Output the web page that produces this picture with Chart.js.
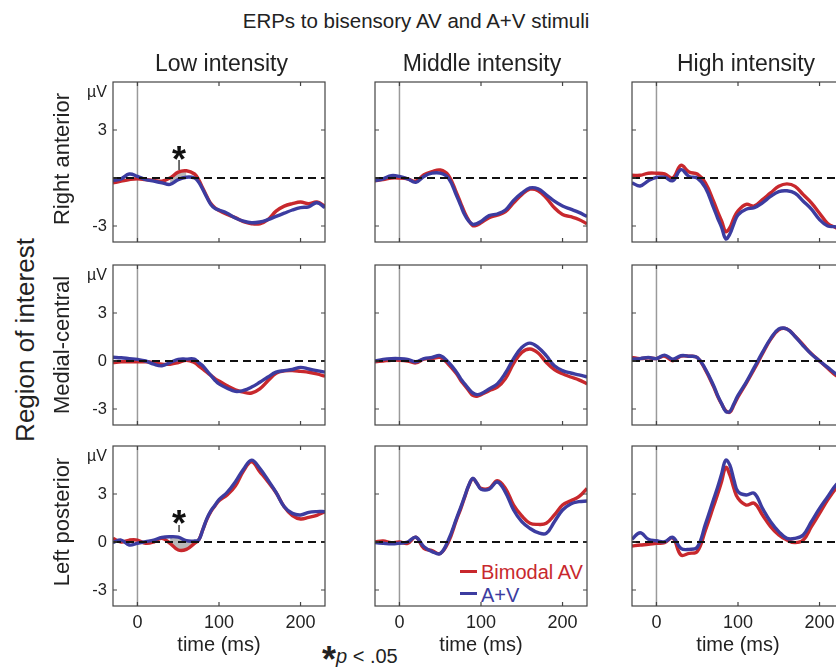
<!DOCTYPE html>
<html>
<head>
<meta charset="utf-8">
<script src="https://cdn.jsdelivr.net/npm/chart.js@4.4.1/dist/chart.umd.min.js"></script>
<style>
body { margin: 0; background: #fff; }
#page { position: relative; width: 836px; height: 671px; overflow: hidden; font-family: "Liberation Sans", Arial, sans-serif; color: #222; }
#page canvas { position: absolute; }
.lbl { position: absolute; white-space: nowrap; line-height: 1; }
.rot { transform: translate(-50%, -50%) rotate(-90deg); }
</style>
</head>
<body>
<div id="page">
  <div class="lbl" style="left:0;width:832px;text-align:center;top:10.5px;font-size:20.5px">ERPs to bisensory AV and A+V stimuli</div>
  <div class="lbl rot" style="left:24.8px;top:340px;font-size:26px">Region of interest</div>
  <div class="lbl" id="legAV" style="left:481px;top:562px;font-size:20px;color:#c8282d">Bimodal AV</div>
  <div class="lbl" id="legSum" style="left:481px;top:585px;font-size:20px;color:#3c3ca0">A+V</div>
  <div style="position:absolute;left:460px;top:570px;width:17px;height:3px;background:#c8282d"></div>
  <div style="position:absolute;left:460px;top:592px;width:17px;height:3px;background:#3c3ca0"></div>
  <div class="lbl" style="left:322px;top:642px;font-size:36px;font-weight:bold">*</div>
  <div class="lbl" style="left:336px;top:646px;font-size:20px"><i>p</i> &lt; .05</div>
</div>
<script>
// time axis (ms) shared by all panels
const times = [-30,-20,-10,0,10,20,30,40,50,60,70,75,80,85,90,95,100,110,120,130,140,150,160,170,180,190,200,210,220,230];

// Right anterior
const antLowAV   = [-0.3,-0.2,-0.1,-0.05,-0.1,-0.15,-0.2,0.0,0.37,0.45,0.25,-0.1,-0.62,-1.14,-1.6,-1.86,-2.03,-2.28,-2.48,-2.73,-2.86,-2.86,-2.6,-2.07,-1.76,-1.6,-1.5,-1.6,-1.5,-1.76];
const antLowSum  = [-0.15,-0.05,0.25,0.1,-0.1,-0.2,-0.3,-0.4,-0.1,0.05,0.0,-0.25,-0.7,-1.2,-1.65,-1.9,-2.0,-2.2,-2.5,-2.7,-2.8,-2.75,-2.6,-2.4,-2.2,-2.0,-1.85,-1.8,-1.55,-1.85];
const antMidAV   = [-0.17,-0.1,0,0,-0.05,-0.2,0.2,0.4,0.5,0.17,-0.93,-1.55,-2.17,-2.65,-2.98,-2.94,-2.8,-2.48,-2.32,-2.1,-1.55,-1.04,-0.7,-0.79,-1.24,-1.86,-2.28,-2.42,-2.59,-2.86];
const antMidSum  = [-0.17,-0.05,0.15,0.1,-0.05,-0.27,0.1,0.3,0.3,0.0,-1.1,-1.7,-2.3,-2.7,-2.9,-2.85,-2.72,-2.35,-2.25,-2.0,-1.4,-0.95,-0.62,-0.68,-1.05,-1.45,-1.75,-1.95,-2.15,-2.4];
const antHighAV  = [0.17,0.17,0.3,0.3,0.25,0.0,0.79,0.37,0.25,-0.3,-1.45,-2.1,-2.7,-3.35,-3.1,-2.5,-2.05,-1.65,-1.75,-1.35,-0.93,-0.52,-0.37,-0.52,-1.04,-1.55,-2.2,-2.84,-3.1,-3.3];
const antHighSum = [-0.3,-0.5,-0.17,0.04,0.05,-0.17,0.52,0.1,0.0,-0.6,-1.85,-2.5,-3.1,-3.8,-3.5,-2.85,-2.3,-1.95,-1.85,-1.55,-1.15,-0.85,-0.8,-0.95,-1.45,-1.95,-2.6,-3.0,-3.05,-3.2];

// Medial-central
const cenLowAV   = [-0.1,-0.05,-0.05,-0.05,-0.05,-0.1,-0.2,-0.2,-0.1,0.05,-0.1,-0.3,-0.5,-0.7,-0.9,-1.1,-1.25,-1.55,-1.8,-1.95,-2.0,-1.74,-1.24,-0.77,-0.62,-0.6,-0.65,-0.7,-0.8,-0.95];
const cenLowSum  = [0.23,0.2,0.15,0.1,0.0,-0.2,-0.3,-0.1,0.1,0.12,0.12,-0.1,-0.3,-0.6,-0.9,-1.2,-1.43,-1.7,-1.9,-1.84,-1.63,-1.33,-1.0,-0.7,-0.6,-0.53,-0.4,-0.5,-0.6,-0.7];
const cenMidAV   = [-0.05,0,0.05,0.05,0,-0.12,0.12,0.15,0.22,-0.2,-0.8,-1.2,-1.53,-1.85,-2.15,-2.2,-2.1,-1.85,-1.64,-1.1,-0.15,0.54,0.75,0.5,-0.08,-0.54,-0.8,-1.0,-1.18,-1.43];
const cenMidSum  = [0,0.1,0.15,0.15,0.1,-0.05,0.15,0.22,0.33,-0.08,-0.7,-1.1,-1.43,-1.75,-2.0,-2.1,-2.05,-1.75,-1.43,-0.75,0.15,0.85,1.12,0.85,0.33,-0.3,-0.6,-0.75,-0.87,-1.0];
const cenHighAV  = [0.22,0.15,0.2,0.15,0.3,0.02,0.3,0.3,0.22,-0.55,-1.6,-2.2,-2.7,-3.1,-3.2,-2.75,-2.25,-1.4,-0.5,0.45,1.35,1.95,2.0,1.55,1.0,0.45,0.0,-0.45,-0.9,-1.2];
const cenHighSum = [0.12,0.15,0.22,0.15,0.37,0.12,0.33,0.3,0.22,-0.5,-1.53,-2.15,-2.67,-3.15,-3.15,-2.67,-2.15,-1.33,-0.4,0.54,1.4,2.0,2.0,1.53,0.95,0.43,0.0,-0.4,-0.8,-1.1];

// Left posterior
const postLowAV   = [0.23,0,0.12,0.12,-0.08,0,0.23,-0.08,-0.5,-0.46,-0.08,0.12,0.75,1.4,1.9,2.25,2.58,2.94,3.5,4.44,5.02,4.4,3.77,3.08,2.21,1.65,1.44,1.54,1.67,1.9];
const postLowSum  = [-0.04,0.12,-0.19,-0.08,0.02,0.12,0.29,0.33,0.3,0.08,0.06,0.12,0.75,1.45,1.95,2.3,2.65,3.1,3.75,4.55,5.12,4.6,3.88,3.1,2.2,1.79,1.69,1.85,1.9,1.9];
const postMidAV   = [0,0.06,-0.04,0,-0.08,0.3,-0.4,-0.54,-0.72,0,1.4,2.05,2.8,3.52,3.95,3.67,3.35,3.35,3.83,3.35,2.31,1.63,1.17,1.1,1.17,1.69,2.31,2.58,2.83,3.35];
const postMidSum  = [-0.04,-0.08,-0.12,-0.08,0,0.3,-0.3,-0.6,-0.72,0.12,1.48,2.15,2.85,3.55,3.98,3.67,3.3,3.3,3.75,3.1,2.0,1.27,0.85,0.58,0.54,1.27,2.0,2.38,2.52,2.56];
const postHighAV  = [-0.25,-0.19,-0.15,-0.08,-0.04,0.25,-0.81,-0.71,-0.6,0.73,2.23,2.98,3.8,4.67,4.19,3.35,2.73,2.31,2.42,1.69,0.96,0.44,0.12,-0.04,0.12,0.96,1.79,2.63,3.35,3.9];
const postHighSum = [0.17,0.58,0.17,0.08,0.02,0.29,-0.4,-0.46,-0.33,1.1,2.65,3.42,4.27,5.12,4.8,3.88,3.15,2.94,3.04,2.1,1.27,0.65,0.23,0.23,0.44,1.27,2.1,2.83,3.56,4.0];

const rowNames = ['Right anterior', 'Medial-central', 'Left posterior'];
const colNames = ['Low intensity', 'Middle intensity', 'High intensity'];
const seriesNames = ['Bimodal AV', 'A+V'];
const xTicks = [0, 100, 200];
const yTicks = [-3, 0, 3];
const unitLabel = 'µV';
const xTitle = 'time (ms)';

// significant differences (p < .05): window in ms, asterisk at time/level
const sigMarks = [
  { row: 0, col: 0, from: 40, to: 60, t: 51, level: 1.68, stem: [1.13, 0.5] },
  { row: 2, col: 0, from: 40, to: 70, t: 51, level: 1.63, stem: [1.06, 0.63] }
];

const avData  = [[antLowAV, antMidAV, antHighAV], [cenLowAV, cenMidAV, cenHighAV], [postLowAV, postMidAV, postHighAV]];
const sumData = [[antLowSum, antMidSum, antHighSum], [cenLowSum, cenMidSum, cenHighSum], [postLowSum, postMidSum, postHighSum]];

const red = '#c8282d';
const blue = '#3c3ca0';

// page layout of the plot boxes
const colLeft = [113, 375, 632];
const rowTop = [82, 265, 446];
const colTitleX = [221.5, 482, 746];
const plotW = 212, plotH = 160;

Chart.defaults.font.family = '"Liberation Sans", Arial, sans-serif';
Chart.defaults.color = '#222';

const panelDecor = {
  id: 'panelDecor',
  beforeDatasetsDraw(chart) {
    const { ctx, chartArea: a, scales: { x } } = chart;
    const x0 = x.getPixelForValue(0);
    ctx.save();
    ctx.strokeStyle = '#9a9a9a';
    ctx.lineWidth = 1.5;
    ctx.beginPath();
    ctx.moveTo(x0, a.top);
    ctx.lineTo(x0, a.bottom);
    ctx.stroke();
    ctx.restore();
  },
  afterDatasetsDraw(chart, args, opts) {
    const { ctx, chartArea: a, scales: { x, y } } = chart;
    ctx.save();
    // dashed zero line
    const y0 = y.getPixelForValue(0);
    ctx.strokeStyle = '#111';
    ctx.lineWidth = 1.8;
    ctx.setLineDash([8, 5]);
    ctx.beginPath();
    ctx.moveTo(a.left, y0);
    ctx.lineTo(a.right, y0);
    ctx.stroke();
    ctx.setLineDash([]);
    // box and inward ticks
    ctx.strokeStyle = '#444';
    ctx.lineWidth = 1.2;
    ctx.strokeRect(a.left, a.top, a.right - a.left, a.bottom - a.top);
    ctx.beginPath();
    y.ticks.forEach(t => {
      const p = y.getPixelForValue(t.value);
      ctx.moveTo(a.left, p); ctx.lineTo(a.left + 4, p);
      ctx.moveTo(a.right, p); ctx.lineTo(a.right - 4, p);
    });
    x.ticks.forEach(t => {
      const p = x.getPixelForValue(t.value);
      ctx.moveTo(p, a.bottom); ctx.lineTo(p, a.bottom - 4);
      ctx.moveTo(p, a.top); ctx.lineTo(p, a.top + 4);
    });
    ctx.stroke();
    // unit label above the y ticks
    if (opts.unit) {
      ctx.fillStyle = '#222';
      ctx.font = '16px "Liberation Sans", Arial, sans-serif';
      ctx.textAlign = 'right';
      ctx.textBaseline = 'middle';
      ctx.fillText(unitLabel, a.left - 6, y.getPixelForValue(5.35));
    }
    // significance asterisk
    if (opts.sig) {
      const s = opts.sig;
      const px = x.getPixelForValue(s.t);
      ctx.strokeStyle = '#222';
      ctx.lineWidth = 1.3;
      ctx.beginPath();
      ctx.moveTo(px, y.getPixelForValue(s.stem[0]));
      ctx.lineTo(px, y.getPixelForValue(s.stem[1]));
      ctx.stroke();
      ctx.fillStyle = '#111';
      ctx.font = 'bold 36px "Liberation Sans", Arial, sans-serif';
      ctx.textAlign = 'center';
      ctx.textBaseline = 'alphabetic';
      ctx.fillText('*', px, y.getPixelForValue(s.level) + 20.5);
    }
    ctx.restore();
  }
};

function pts(vals) {
  return times.map((t, i) => ({ x: t, y: vals[i] }));
}
function windowPts(vals, lo, hi) {
  return times.map((t, i) => ({ x: t, y: (t >= lo && t <= hi) ? vals[i] : null }));
}

const page = document.getElementById('page');

for (let r = 0; r < 3; r++) {
  for (let c = 0; c < 3; c++) {
    const padL = c === 0 ? 40 : 10;
    const padB = r === 2 ? 30 : 10;
    const padT = 10, padR = 10;
    const cv = document.createElement('canvas');
    cv.width = padL + plotW + padR;
    cv.height = padT + plotH + padB;
    cv.style.left = (colLeft[c] - padL) + 'px';
    cv.style.top = (rowTop[r] - padT) + 'px';
    page.appendChild(cv);

    const sig = sigMarks.find(s => s.row === r && s.col === c);
    const datasets = [];
    if (sig) {
      datasets.push({ data: windowPts(avData[r][c], sig.from, sig.to), borderWidth: 0, pointRadius: 0,
        fill: '+1', backgroundColor: '#b8b8b8', tension: 0.4, order: 5 });
      datasets.push({ data: windowPts(sumData[r][c], sig.from, sig.to), borderWidth: 0, pointRadius: 0,
        fill: false, tension: 0.4, order: 5 });
    }
    datasets.push({ label: seriesNames[0], data: pts(avData[r][c]), borderColor: red, borderWidth: 3.4,
      pointRadius: 0, tension: 0.4, fill: false, order: 2 });
    datasets.push({ label: seriesNames[1], data: pts(sumData[r][c]), borderColor: blue, borderWidth: 3.4,
      pointRadius: 0, tension: 0.4, fill: false, order: 1 });

    new Chart(cv, {
      type: 'line',
      data: { datasets },
      options: {
        responsive: false,
        animation: false,
        devicePixelRatio: 1,
        events: [],
        layout: { padding: { top: padT, right: padR, left: 0, bottom: 0 } },
        plugins: {
          legend: { display: false },
          tooltip: { enabled: false },
          panelDecor: { unit: c === 0, sig: sig }
        },
        scales: {
          x: {
            type: 'linear', min: -30, max: 230,
            grid: { display: false, drawTicks: false },
            border: { display: false },
            afterBuildTicks: s => { s.ticks = xTicks.map(v => ({ value: v })); },
            afterFit: s => { s.height = padB; s.paddingLeft = 0; s.paddingRight = 0; },
            ticks: { display: r === 2, padding: 6.5, font: { size: 18 }, color: '#222', maxRotation: 0 }
          },
          y: {
            type: 'linear', min: -4, max: 6,
            grid: { display: false, drawTicks: false },
            border: { display: false },
            afterBuildTicks: s => { s.ticks = yTicks.map(v => ({ value: v })); },
            afterFit: s => { s.width = padL; s.paddingTop = 0; s.paddingBottom = 0; },
            ticks: { display: c === 0, padding: 6, font: { size: 16.5 }, color: '#222',
              callback: v => (r === 0 && v === 0) ? '' : String(v) }
          }
        }
      },
      plugins: [panelDecor]
    });
  }
}

// column titles, row labels and x-axis titles
colNames.forEach((name, c) => {
  const d = document.createElement('div');
  d.className = 'lbl';
  d.style.cssText = `left:${colTitleX[c] - 150}px;width:300px;text-align:center;top:51.5px;font-size:23px`;
  d.textContent = name;
  page.appendChild(d);
  const t = document.createElement('div');
  t.className = 'lbl';
  t.style.cssText = `left:${colLeft[c] + plotW / 2 - 100}px;width:200px;text-align:center;top:634px;font-size:20px`;
  t.textContent = xTitle;
  page.appendChild(t);
});
const rowLabelY = [158.5, 344.5, 522];
rowNames.forEach((name, r) => {
  const d = document.createElement('div');
  d.className = 'lbl rot';
  d.style.cssText = `left:61.5px;top:${rowLabelY[r]}px;font-size:22px`;
  d.textContent = name;
  page.appendChild(d);
});
</script>
</body>
</html>
